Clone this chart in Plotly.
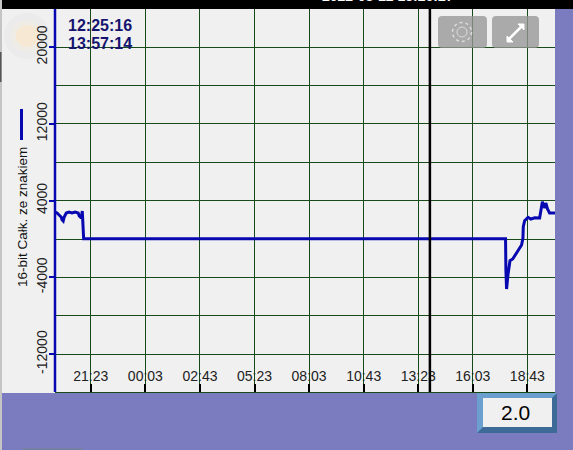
import plotly.graph_objects as go

W, H = 573, 450
PLOT_L, PLOT_R, PLOT_T, PLOT_B = 55, 555, 9, 392

# time in minutes from midnight of the first day, value of the 16-bit register
left_minutes = [1178, 1184, 1190, 1196, 1199, 1202, 1205, 1211, 1219, 1228, 1237, 1246, 1249, 1255, 1258, 1260, 1262, 1266]
left_values = [2813, 2708, 2500, 2292, 1979, 1875, 2292, 2708, 2813, 2708, 2813, 2708, 2396, 2188, 2917, 1771, 30, 30]
right_minutes = [2499, 2500, 2502, 2506, 2512, 2520, 2531, 2546, 2550, 2551, 2555, 2565, 2573, 2585, 2599, 2604, 2607, 2614, 2617, 2622, 2628, 2644]
right_values = [30, -3229, -5208, -3750, -2260, -2083, -1458, -625, 104, 1281, 1906, 2260, 2083, 2218, 2188, 3021, 3885, 3229, 3750, 3125, 2708, 2708]
minutes = left_minutes + right_minutes
values = left_values + right_values

x_tick_minutes = [1283, 1443, 1603, 1763, 1923, 2083, 2243, 2403, 2563]
x_tick_labels = ["21:23", "00:03", "02:43", "05:23", "08:03", "10:43", "13:23", "16:03", "18:43"]
y_tick_values = [20000, 12000, 4000, -4000, -12000]
y_tick_labels = ["20000", "12000", "4000", "-4000", "-12000"]
y_grid_values = [16000, 8000, 0, -8000]
cursor_minute = 2277.2
x_range = [1178, 2644]
y_range = [-15938, 23958]
time_a, time_b = "12:25:16", "13:57:14"
header = "2022-08-12 13:26:27"
series_name = "16-bit Całk. ze znakiem"
gain = "2.0"

PURPLE = "#7b7bc0"
BG = "#f0f0f0"
GRID = "#174a17"
BLUE = "#0808b0"


def fx(px):
    return px / W


def fy(py):
    return 1 - py / H


def rect(x0, y0, x1, y1, color, **kw):
    return dict(type="rect", xref="paper", yref="paper", x0=fx(x0), x1=fx(x1), y0=fy(y1), y1=fy(y0),
                fillcolor=color, line=dict(width=0), layer=kw.pop("layer", "below"), **kw)


def circle(cx, cy, r, color, **kw):
    return dict(type="circle", xref="paper", yref="paper", x0=fx(cx - r), x1=fx(cx + r), y0=fy(cy + r), y1=fy(cy - r),
                fillcolor=color, line=kw.pop("line", dict(width=0)), layer=kw.pop("layer", "below"), **kw)


def path(points, close=True, **kw):
    d = "M " + " L ".join(f"{fx(a)} {fy(b)}" for a, b in points) + (" Z" if close else "")
    return dict(type="path", xref="paper", yref="paper", path=d, layer=kw.pop("layer", "above"), **kw)


def rounded(x0, y0, x1, y1, r, color, **kw):
    pts = [(x0 + r, y0), (x1 - r, y0), (x1, y0 + r), (x1, y1 - r), (x1 - r, y1), (x0 + r, y1), (x0, y1 - r), (x0, y0 + r)]
    d = (f"M {fx(pts[0][0])} {fy(pts[0][1])} L {fx(pts[1][0])} {fy(pts[1][1])} "
         f"Q {fx(x1)} {fy(y0)} {fx(pts[2][0])} {fy(pts[2][1])} L {fx(pts[3][0])} {fy(pts[3][1])} "
         f"Q {fx(x1)} {fy(y1)} {fx(pts[4][0])} {fy(pts[4][1])} L {fx(pts[5][0])} {fy(pts[5][1])} "
         f"Q {fx(x0)} {fy(y1)} {fx(pts[6][0])} {fy(pts[6][1])} L {fx(pts[7][0])} {fy(pts[7][1])} "
         f"Q {fx(x0)} {fy(y0)} {fx(pts[0][0])} {fy(pts[0][1])} Z")
    return dict(type="path", xref="paper", yref="paper", path=d, fillcolor=color, line=dict(width=0), layer="above", **kw)


def label(px, py, text, size, color, xanchor="center", yanchor="middle", bold=False, angle=0):
    return dict(xref="paper", yref="paper", x=fx(px), y=fy(py), text=f"<b>{text}</b>" if bold else text,
                showarrow=False, xanchor=xanchor, yanchor=yanchor, textangle=angle,
                font=dict(family="Liberation Sans", size=size, color=color), borderpad=0, borderwidth=0)


shapes = [
    # frame bands around the plot
    rect(0, 0, W, PLOT_T, "#000000"),
    rect(PLOT_R, PLOT_T, W, H, PURPLE),
    rect(2, PLOT_B + 1, W, H, PURPLE),
    rect(0, 0, 2, H, "#c4c4c4"),
    rect(0, 52, 1.5, 82, "#555555"),
    rect(22, 448, 83, H, "#7480a6"),
    # soft glow on the upper left
    circle(27, 36, 23, "#ebebeb"),
    circle(27, 36, 16, "#efece6"),
    circle(27, 36, 11, "#f6e8d2"),
    # left axis line
    dict(type="line", xref="paper", yref="paper", x0=fx(PLOT_L), x1=fx(PLOT_L), y0=fy(PLOT_B), y1=fy(PLOT_T),
         line=dict(color=BLUE, width=2.5), layer="above"),
    # measurement cursor
    dict(type="line", xref="x", yref="y domain", x0=cursor_minute, x1=cursor_minute, y0=0, y1=1,
         line=dict(color="#000000", width=2.5), layer="above"),
    # settings and expand buttons
    rounded(438, 16, 487, 48, 4, "rgba(150,150,150,0.78)"),
    rounded(492, 16, 539, 48, 4, "rgba(150,150,150,0.78)"),
    circle(462, 32, 9.5, "rgba(0,0,0,0)", line=dict(color="#dcdcdc", width=1.5, dash="dot"), layer="above"),
    circle(462, 32, 5, "rgba(0,0,0,0)", line=dict(color="#dcdcdc", width=1), layer="above"),
    path([(509, 39), (522, 26)], close=False, line=dict(color="#ffffff", width=2.5)),
    path([(507, 36), (507, 42), (513, 42)], fillcolor="#ffffff", line=dict(color="#ffffff", width=1)),
    path([(518, 24), (524, 24), (524, 30)], fillcolor="#ffffff", line=dict(color="#ffffff", width=1)),
    # bevelled value box
    rect(477, 393, 557, 433, "#3e6a98", layer="above"),
    path([(477, 393), (557, 393), (552, 398), (483, 398), (483, 427), (477, 433)], fillcolor="#6a9fd0", line=dict(width=0)),
    rect(483, 398, 552, 427, BG, layer="above"),
    # legend key
    dict(type="line", xref="paper", yref="paper", x0=fx(21.5), x1=fx(21.5), y0=fy(140), y1=fy(109),
         line=dict(color=BLUE, width=3), layer="above"),
]

annotations = [
    label(68, 25.5, time_a, 16, "#14146e", xanchor="left", bold=True),
    label(68, 43.5, time_b, 16, "#14146e", xanchor="left", bold=True),
    label(388, 4, header, 14, "#ffffff", yanchor="bottom", bold=True),
    label(22, 217, series_name, 13.5, "#111111", angle=-90),
    label(515, 412, gain, 21, "#000000"),
]

fig = go.Figure(go.Scatter(x=minutes, y=values, mode="lines", line=dict(color=BLUE, width=3), cliponaxis=True,
                           showlegend=False, hoverinfo="skip"))
fig.update_layout(
    width=W, height=H, margin=dict(l=0, r=0, t=0, b=0), autosize=False,
    paper_bgcolor=BG, plot_bgcolor=BG, showlegend=False,
    font=dict(family="Liberation Sans", size=14, color="#222222"),
    shapes=shapes, annotations=annotations,
    xaxis=dict(domain=[fx(PLOT_L), fx(PLOT_R)], range=x_range, tickmode="array", tickvals=x_tick_minutes,
               ticktext=x_tick_labels, ticks="inside", ticklen=8, tickwidth=2, tickcolor="#000000",
               ticklabelposition="inside", showgrid=True, gridcolor=GRID, gridwidth=1.3,
               showline=True, linecolor=GRID, linewidth=1, zeroline=False, tickfont=dict(size=14, color="#222222")),
    yaxis=dict(domain=[fy(PLOT_B), fy(PLOT_T)], range=y_range, tickmode="array", tickvals=y_tick_values,
               ticktext=y_tick_labels, ticks="outside", ticklen=5, tickwidth=2, tickcolor=BLUE, tickangle=-90,
               ticklabelstandoff=-4,
               showgrid=True, gridcolor=GRID, gridwidth=1, showline=False,
               zeroline=False, tickfont=dict(size=14, color="#222222"),
               minor=dict(tickmode="array", tickvals=y_grid_values, showgrid=True, gridcolor=GRID, gridwidth=1, ticks="")),
)
fig.write_html("out.html", config=dict(displayModeBar=False),
               post_script="document.body.style.margin='0';document.body.style.overflow='hidden';")
